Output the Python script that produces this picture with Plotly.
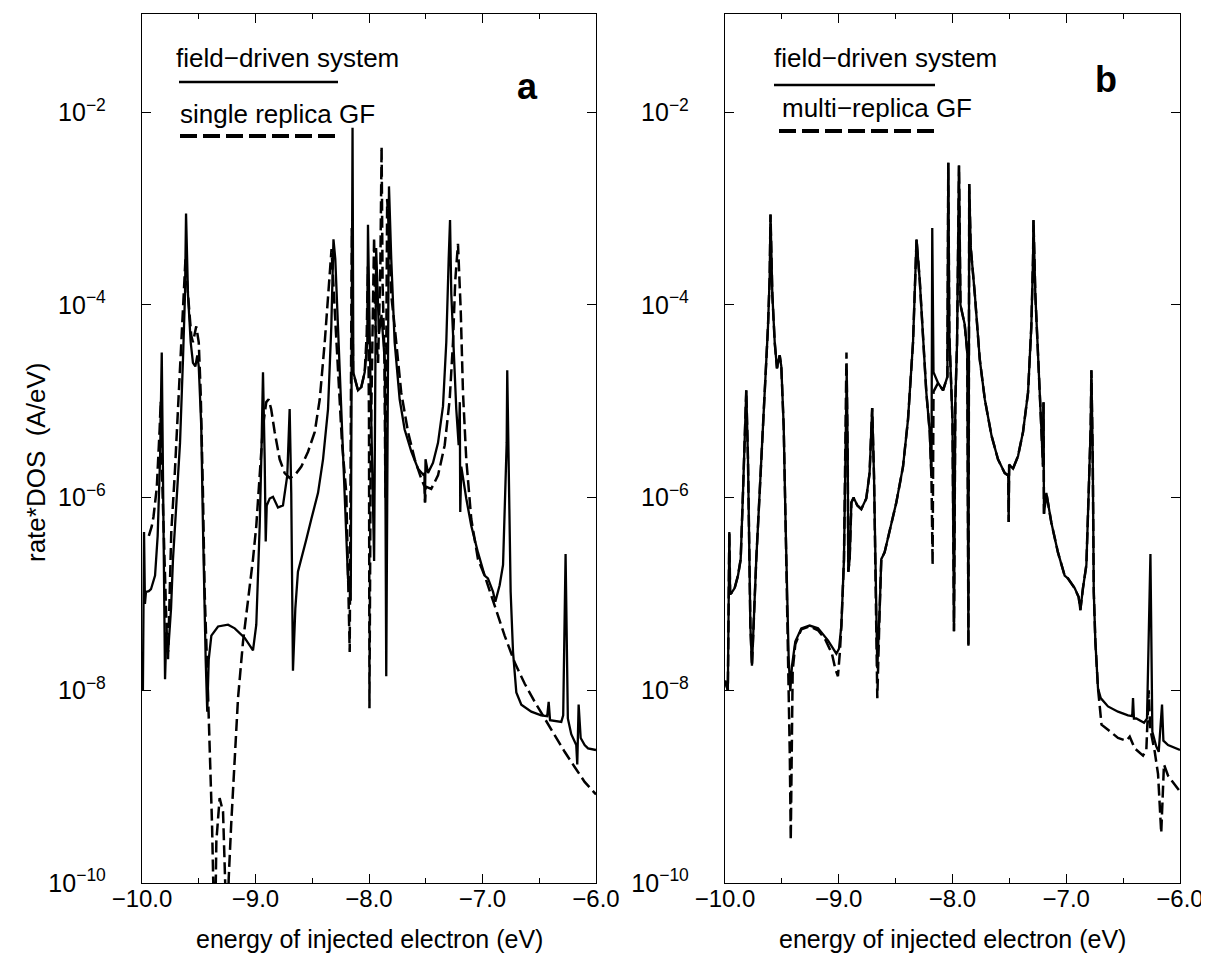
import plotly.graph_objects as go

# ---------------- data ----------------
# panel a, field-driven system (solid)
energy_a_solid = [-10.000, -9.992, -9.982, -9.974, -9.965, -9.940, -9.921, -9.885, -9.862, -9.853,
                  -9.841, -9.826, -9.818, -9.808, -9.797, -9.785, -9.770, -9.744, -9.727, -9.700,
                  -9.665, -9.639, -9.621, -9.612, -9.595, -9.571, -9.551, -9.530, -9.513, -9.500,
                  -9.478, -9.463, -9.454, -9.439, -9.425, -9.412, -9.389, -9.330, -9.242, -9.183,
                  -9.095, -9.022, -8.993, -8.972, -8.963, -8.949, -8.934, -8.919, -8.910, -8.901,
                  -8.875, -8.846, -8.802, -8.758, -8.720, -8.699, -8.685, -8.670, -8.649, -8.626,
                  -8.596, -8.552, -8.508, -8.449, -8.405, -8.361, -8.332, -8.317, -8.313, -8.297,
                  -8.273, -8.244, -8.214, -8.185, -8.167, -8.161, -8.145, -8.138, -8.097, -8.068,
                  -8.038, -8.015, -8.009, -7.990, -7.955, -7.937, -7.912, -7.890, -7.860, -7.848,
                  -7.824, -7.804, -7.774, -7.730, -7.686, -7.627, -7.568, -7.524, -7.512, -7.507,
                  -7.502, -7.480, -7.436, -7.392, -7.348, -7.319, -7.298, -7.286, -7.275, -7.251,
                  -7.231, -7.210, -7.200, -7.196, -7.187, -7.143, -7.099, -7.040, -6.981, -6.952,
                  -6.907, -6.887, -6.849, -6.819, -6.804, -6.787, -6.782, -6.769, -6.752, -6.731,
                  -6.702, -6.658, -6.570, -6.483, -6.430, -6.417, -6.405, -6.306, -6.289, -6.268,
                  -6.248, -6.218, -6.174, -6.165, -6.153, -6.135, -6.100, -6.070, -6.000]
rate_a_solid = [2.5e-8, 1.0e-8, 4.4e-7, 7.9e-8, 1.05e-7, 1.07e-7, 1.12e-7, 1.55e-7, 4.0e-7, 7.6e-7,
                2.5e-6, 3.2e-5, 2.5e-6, 1.6e-7, 1.3e-8, 4.0e-8, 2.5e-8, 7.1e-8, 2.3e-7, 7.6e-7,
                3.7e-6, 2.7e-5, 1.3e-4, 8.9e-4, 1.3e-4, 4.1e-5, 2.5e-5, 2.3e-5, 3.0e-5, 2.3e-5,
                5.5e-6, 5.1e-7, 1.05e-7, 2.1e-8, 6.0e-9, 2.1e-8, 3.7e-8, 4.6e-8, 4.8e-8, 4.4e-8,
                3.5e-8, 2.6e-8, 4.8e-8, 2.3e-7, 5.1e-7, 2.5e-6, 2.0e-5, 2.5e-6, 3.5e-7, 8.3e-7,
                9.8e-7, 1.02e-6, 7.9e-7, 8.3e-7, 1.7e-6, 8.3e-6, 1.12e-6, 1.6e-8, 7.1e-8, 1.7e-7,
                2.3e-7, 3.7e-7, 6.0e-7, 1.12e-6, 2.5e-6, 8.3e-6, 6.0e-5, 3.0e-4, 4.8e-4, 3.0e-4,
                6.0e-5, 8.3e-6, 1.12e-6, 1.45e-7, 1.05e-7, 8.5e-8, 6.9e-3, 2.0e-5, 1.3e-5, 1.4e-5,
                2.0e-5, 4.1e-5, 6.8e-4, 2.5e-5, 2.2e-7, 3.9e-4, 5.0e-5, 7.9e-5, 2.5e-5, 1.4e-8,
                1.7e-3, 3.0e-4, 4.1e-5, 1.05e-5, 5.1e-6, 3.0e-6, 2.0e-6, 1.74e-6, 1.78e-6, 8.9e-7,
                2.5e-6, 1.8e-6, 2.3e-6, 3.7e-6, 8.9e-6, 4.1e-5, 3.0e-4, 7.6e-4, 1.3e-4, 2.7e-5,
                8.3e-6, 3.5e-6, 9.8e-6, 7.1e-7, 2.1e-6, 9.8e-7, 5.1e-7, 2.7e-7, 1.55e-7, 1.45e-7,
                1.05e-7, 8.3e-8, 1.23e-7, 2.0e-7, 7.6e-7, 3.7e-6, 2.1e-5, 1.12e-6, 1.05e-7, 2.5e-8,
                9.5e-9, 7.1e-9, 6.0e-9, 5.5e-9, 5.4e-9, 7.6e-9, 4.9e-9, 4.7e-9, 5.5e-9, 2.6e-7,
                5.1e-9, 3.5e-9, 2.7e-9, 1.7e-9, 7.1e-9, 3.2e-9, 2.7e-9, 2.5e-9, 2.4e-9]

# panel a, single replica GF (dashed)
energy_a_dash = [-9.940, -9.915, -9.899, -9.870, -9.845, -9.835, -9.825, -9.800, -9.780, -9.771,
                 -9.760, -9.742, -9.712, -9.683, -9.654, -9.633, -9.617, -9.595, -9.566, -9.551,
                 -9.522, -9.500, -9.483, -9.463, -9.448, -9.419, -9.398, -9.383, -9.372, -9.360,
                 -9.350, -9.345, -9.316, -9.286, -9.267, -9.255, -9.245, -9.236, -9.214, -9.183,
                 -9.154, -9.110, -9.066, -9.022, -8.993, -8.963, -8.934, -8.905, -8.884, -8.862,
                 -8.831, -8.787, -8.743, -8.699, -8.655, -8.596, -8.537, -8.478, -8.434, -8.390,
                 -8.355, -8.330, -8.302, -8.273, -8.238, -8.200, -8.185, -8.170, -8.152, -8.140,
                 -8.097, -8.068, -8.038, -8.020, -8.010, -8.000, -7.996, -7.985, -7.965, -7.955,
                 -7.945, -7.920, -7.900, -7.889, -7.880, -7.865, -7.855, -7.848, -7.840, -7.825,
                 -7.804, -7.774, -7.716, -7.656, -7.597, -7.538, -7.510, -7.506, -7.500, -7.452,
                 -7.392, -7.333, -7.289, -7.260, -7.240, -7.216, -7.192, -7.172, -7.143, -7.099,
                 -7.040, -6.981, -6.893, -6.805, -6.717, -6.628, -6.540, -6.452, -6.364, -6.276,
                 -6.188, -6.100, -6.000]
rate_a_dash = [4.0e-7, 5.0e-7, 6.3e-7, 1.26e-6, 5.0e-6, 1.0e-5, 2.0e-6, 1.6e-7, 3.2e-8, 2.1e-8,
               6.3e-8, 4.4e-7, 1.7e-6, 8.3e-6, 4.1e-5, 1.3e-4, 3.0e-4, 1.3e-4, 4.8e-5, 4.1e-5,
               6.0e-5, 4.1e-5, 1.23e-5, 1.12e-6, 1.05e-7, 9.8e-9, 1.95e-9, 4.1e-10, 1.0e-10, 2.5e-11,
               1.0e-10, 2.7e-10, 7.6e-10, 5.5e-10, 1.0e-10, 2.5e-11, 4.0e-11, 1.12e-10, 4.1e-10, 1.95e-9,
               8.3e-9, 3.2e-8, 8.3e-8, 2.3e-7, 5.1e-7, 1.7e-6, 5.5e-6, 9.8e-6, 1.05e-5, 8.3e-6,
               4.8e-6, 2.5e-6, 1.8e-6, 1.6e-6, 1.7e-6, 2.1e-6, 3.0e-6, 4.8e-6, 1.05e-5, 4.1e-5,
               1.55e-4, 3.8e-4, 8.9e-5, 1.8e-5, 3.7e-6, 1.12e-6, 1.45e-7, 2.5e-8, 6.3e-4, 2.0e-5,
               1.3e-5, 1.4e-5, 2.0e-5, 5.0e-5, 2.5e-4, 6.3e-6, 6.5e-9, 3.2e-6, 1.0e-4, 5.0e-4,
               6.3e-5, 2.5e-5, 2.5e-4, 4.4e-3, 1.6e-4, 3.2e-5, 1.0e-6, 1.0e-4, 1.26e-3, 6.3e-4,
               1.26e-4, 6.0e-5, 1.23e-5, 4.8e-6, 2.5e-6, 1.55e-6, 1.3e-6, 8.9e-7, 1.3e-6, 1.23e-6,
               1.7e-6, 3.5e-6, 1.05e-5, 4.1e-5, 1.8e-4, 4.3e-4, 8.9e-5, 1.23e-5, 2.5e-6, 6.0e-7,
               2.3e-7, 1.55e-7, 7.6e-8, 3.7e-8, 1.95e-8, 1.17e-8, 7.6e-9, 5.1e-9, 3.5e-9, 2.3e-9,
               1.6e-9, 1.12e-9, 8.3e-10]

# panel b, field-driven system (solid)
energy_b_solid = [-10.000, -9.975, -9.962, -9.955, -9.945, -9.915, -9.886, -9.862, -9.842, -9.827,
                  -9.813, -9.798, -9.789, -9.777, -9.763, -9.745, -9.725, -9.710, -9.681, -9.652,
                  -9.622, -9.607, -9.600, -9.584, -9.563, -9.543, -9.519, -9.505, -9.484, -9.467,
                  -9.455, -9.440, -9.426, -9.411, -9.382, -9.329, -9.256, -9.182, -9.095, -9.021,
                  -8.998, -8.977, -8.954, -8.942, -8.930, -8.921, -8.916, -8.904, -8.889, -8.869,
                  -8.837, -8.802, -8.758, -8.729, -8.706, -8.690, -8.661, -8.640, -8.626, -8.597,
                  -8.553, -8.494, -8.435, -8.391, -8.347, -8.326, -8.316, -8.288, -8.259, -8.230,
                  -8.200, -8.185, -8.178, -8.167, -8.127, -8.083, -8.045, -8.037, -8.028, -8.000,
                  -7.987, -7.975, -7.960, -7.943, -7.930, -7.893, -7.870, -7.860, -7.853, -7.840,
                  -7.804, -7.760, -7.716, -7.657, -7.600, -7.541, -7.510, -7.506, -7.502, -7.468,
                  -7.424, -7.380, -7.336, -7.307, -7.292, -7.288, -7.272, -7.248, -7.224, -7.204,
                  -7.200, -7.196, -7.175, -7.131, -7.073, -7.014, -6.985, -6.926, -6.891, -6.876,
                  -6.853, -6.823, -6.803, -6.785, -6.779, -6.767, -6.758, -6.744, -6.721, -6.697,
                  -6.633, -6.545, -6.457, -6.420, -6.413, -6.405, -6.384, -6.316, -6.290, -6.260,
                  -6.243, -6.208, -6.187, -6.158, -6.146, -6.105, -6.000]
rate_b_solid = [1.26e-8, 1.0e-8, 4.4e-7, 1.0e-7, 1.02e-7, 1.15e-7, 1.55e-7, 2.3e-7, 1.12e-6, 3.7e-6,
                1.3e-5, 2.5e-6, 2.3e-7, 4.7e-8, 1.8e-8, 7.1e-8, 2.3e-7, 5.1e-7, 2.5e-6, 1.23e-5,
                6.0e-5, 2.0e-4, 8.7e-4, 1.3e-4, 4.1e-5, 2.2e-5, 3.0e-5, 2.3e-5, 5.5e-6, 5.1e-7,
                1.05e-7, 2.1e-8, 9.8e-9, 1.8e-8, 3.2e-8, 4.4e-8, 4.7e-8, 4.4e-8, 3.3e-8, 2.4e-8,
                2.7e-8, 4.7e-8, 2.3e-7, 2.5e-6, 2.1e-5, 2.5e-6, 1.7e-7, 2.3e-7, 8.9e-7, 1.0e-6,
                8.3e-7, 7.6e-7, 9.8e-7, 1.8e-6, 8.5e-6, 1.7e-6, 1.7e-8, 7.1e-8, 2.3e-7, 2.7e-7,
                4.4e-7, 8.9e-7, 2.1e-6, 6.5e-6, 4.1e-5, 2.0e-4, 4.8e-4, 1.8e-4, 4.1e-5, 1.23e-5,
                4.8e-6, 1.6e-6, 6.3e-4, 2.0e-5, 1.55e-5, 1.3e-5, 1.8e-5, 3.0e-3, 5.0e-5, 6.3e-6,
                4.1e-8, 1.0e-5, 4.0e-5, 2.8e-3, 1.0e-4, 6.3e-5, 3.2e-5, 2.9e-8, 1.8e-3, 4.0e-4,
                1.3e-4, 2.7e-5, 1.05e-5, 4.4e-6, 2.5e-6, 1.8e-6, 1.7e-6, 5.6e-7, 2.2e-6, 2.0e-6,
                2.7e-6, 4.8e-6, 1.23e-5, 6.0e-5, 3.0e-4, 7.6e-4, 1.3e-4, 2.7e-5, 6.5e-6, 2.1e-6,
                9.8e-6, 6.8e-7, 1.12e-6, 5.5e-7, 2.7e-7, 1.55e-7, 1.45e-7, 1.15e-7, 9.3e-8, 6.8e-8,
                1.15e-7, 2.0e-7, 1.12e-6, 5.5e-6, 2.1e-5, 2.5e-6, 1.05e-7, 3.2e-8, 1.05e-8, 8.3e-9,
                6.8e-9, 6.0e-9, 5.5e-9, 5.4e-9, 8.3e-9, 5.1e-9, 5.1e-9, 4.6e-9, 5.1e-9, 2.6e-7,
                3.7e-9, 2.6e-9, 2.3e-9, 7.1e-9, 3.0e-9, 2.7e-9, 2.4e-9]

# panel b, multi-replica GF (dashed)
energy_b_dash = [-10.000, -9.975, -9.962, -9.955, -9.945, -9.915, -9.886, -9.862, -9.842, -9.827,
                 -9.813, -9.798, -9.789, -9.777, -9.763, -9.745, -9.725, -9.710, -9.681, -9.652,
                 -9.622, -9.607, -9.600, -9.584, -9.563, -9.543, -9.519, -9.505, -9.484, -9.467,
                 -9.455, -9.440, -9.430, -9.422, -9.415, -9.405, -9.382, -9.329, -9.256, -9.182,
                 -9.120, -9.060, -9.030, -9.007, -8.990, -8.977, -8.954, -8.942, -8.932, -8.921,
                 -8.916, -8.904, -8.889, -8.869, -8.837, -8.802, -8.758, -8.729, -8.706, -8.690,
                 -8.661, -8.640, -8.626, -8.597, -8.553, -8.494, -8.435, -8.391, -8.347, -8.326,
                 -8.316, -8.288, -8.259, -8.230, -8.200, -8.185, -8.175, -8.167, -8.127, -8.083,
                 -8.045, -8.037, -8.028, -8.000, -7.987, -7.975, -7.960, -7.943, -7.930, -7.893,
                 -7.870, -7.860, -7.853, -7.840, -7.804, -7.760, -7.716, -7.657, -7.600, -7.541,
                 -7.510, -7.506, -7.502, -7.468, -7.424, -7.380, -7.336, -7.307, -7.292, -7.288,
                 -7.272, -7.248, -7.224, -7.204, -7.200, -7.196, -7.175, -7.131, -7.073, -7.014,
                 -6.985, -6.926, -6.891, -6.876, -6.853, -6.823, -6.803, -6.785, -6.779, -6.767,
                 -6.758, -6.744, -6.721, -6.705, -6.690, -6.633, -6.545, -6.472, -6.442, -6.398,
                 -6.325, -6.296, -6.275, -6.262, -6.222, -6.193, -6.165, -6.141, -6.105, -6.000]
rate_b_dash = [1.26e-8, 1.0e-8, 4.4e-7, 1.0e-7, 1.02e-7, 1.15e-7, 1.55e-7, 2.3e-7, 1.12e-6, 3.7e-6,
               1.3e-5, 2.5e-6, 2.3e-7, 4.7e-8, 1.8e-8, 7.1e-8, 2.3e-7, 5.1e-7, 2.5e-6, 1.23e-5,
               6.0e-5, 2.0e-4, 8.7e-4, 1.3e-4, 4.1e-5, 2.2e-5, 3.0e-5, 2.3e-5, 5.5e-6, 5.1e-7,
               1.05e-7, 1.26e-8, 2.0e-9, 2.8e-10, 2.5e-9, 1.6e-8, 3.0e-8, 4.3e-8, 4.6e-8, 4.2e-8,
               3.4e-8, 2.4e-8, 1.66e-8, 1.4e-8, 2.5e-8, 4.7e-8, 2.3e-7, 2.5e-6, 3.2e-5, 2.5e-6,
               1.7e-7, 2.3e-7, 8.9e-7, 1.0e-6, 8.3e-7, 7.6e-7, 9.8e-7, 1.8e-6, 8.5e-6, 1.7e-6,
               8.3e-9, 7.1e-8, 2.3e-7, 2.7e-7, 4.4e-7, 8.9e-7, 2.1e-6, 6.5e-6, 4.1e-5, 2.0e-4,
               4.8e-4, 1.8e-4, 4.1e-5, 1.23e-5, 4.8e-6, 1.6e-6, 2.0e-7, 1.26e-5, 1.55e-5, 1.3e-5,
               1.8e-5, 3.0e-3, 5.0e-5, 6.3e-6, 4.1e-8, 1.0e-5, 4.0e-5, 2.8e-3, 1.0e-4, 6.3e-5,
               3.2e-5, 2.9e-8, 1.8e-3, 4.0e-4, 1.3e-4, 2.7e-5, 1.05e-5, 4.4e-6, 2.5e-6, 1.8e-6,
               1.7e-6, 5.6e-7, 2.2e-6, 2.0e-6, 2.7e-6, 4.8e-6, 1.23e-5, 6.0e-5, 3.0e-4, 7.6e-4,
               1.3e-4, 2.7e-5, 6.5e-6, 2.1e-6, 9.8e-6, 6.8e-7, 1.12e-6, 5.5e-7, 2.7e-7, 1.55e-7,
               1.45e-7, 1.15e-7, 9.3e-8, 6.8e-8, 1.15e-7, 2.0e-7, 1.12e-6, 5.5e-6, 2.1e-5, 2.5e-6,
               1.05e-7, 3.2e-8, 1.05e-8, 6.3e-9, 4.4e-9, 3.9e-9, 3.2e-9, 3.0e-9, 3.3e-9, 2.5e-9,
               2.1e-9, 2.4e-9, 1.0e-8, 4.0e-9, 2.3e-9, 1.35e-9, 3.3e-10, 1.7e-9, 1.3e-9, 8.9e-10]

x_tick_values = [-10, -9, -8, -7, -6]
x_tick_labels = ["\u221210.0", "\u22129.0", "\u22128.0", "\u22127.0", "\u22126.0"]
y_tick_values = [1e-10, 1e-8, 1e-6, 1e-4, 1e-2]
y_tick_labels = ["10<sup>\u221210</sup>", "10<sup>\u22128</sup>", "10<sup>\u22126</sup>",
                 "10<sup>\u22124</sup>", "10<sup>\u22122</sup>"]

# ---------------- figure ----------------
W, H = 1209, 956
FONT = "Liberation Sans, Arial, Helvetica, sans-serif"

def px_x(p):
    return p / W

def px_y(p):
    return 1 - p / H

dom_a = [px_x(134), px_x(588)]
dom_b = [px_x(717), px_x(1172)]
dom_y = [px_y(875), px_y(6)]

fig = go.Figure()
solid_line = dict(color="black", width=2.3)
dash_line = dict(color="black", width=2.5, dash="12px,5px")

fig.add_trace(go.Scatter(x=energy_a_solid, y=rate_a_solid, mode="lines", line=solid_line,
                         xaxis="x", yaxis="y", name="field-driven system"))
fig.add_trace(go.Scatter(x=energy_a_dash, y=rate_a_dash, mode="lines", line=dash_line,
                         xaxis="x", yaxis="y", name="single replica GF"))
fig.add_trace(go.Scatter(x=energy_b_solid, y=rate_b_solid, mode="lines", line=solid_line,
                         xaxis="x2", yaxis="y2", name="field-driven system"))
fig.add_trace(go.Scatter(x=energy_b_dash, y=rate_b_dash, mode="lines", line=dash_line,
                         xaxis="x2", yaxis="y2", name="multi-replica GF"))

xcommon = dict(range=[-10, -6], tickmode="array", tickvals=x_tick_values, ticktext=x_tick_labels,
               ticks="inside", ticklen=9, tickwidth=1.3, tickcolor="black",
               showline=True, linecolor="black", linewidth=1.3, mirror="ticks",
               showgrid=False, zeroline=False, automargin=False,
               tickfont=dict(family=FONT, size=24, color="black"), ticklabelstandoff=-6,
               minor=dict(ticks="inside", ticklen=5, tickwidth=1.2, tickcolor="black",
                          tickmode="linear", tick0=-10, dtick=0.5, showgrid=False))
ycommon = dict(type="log", range=[-10, -0.98], domain=dom_y, tickmode="array",
               tickvals=y_tick_values, ticktext=y_tick_labels,
               ticks="inside", ticklen=9, tickwidth=1.3, tickcolor="black",
               showline=True, linecolor="black", linewidth=1.3, mirror="ticks",
               showgrid=False, zeroline=False, automargin=False,
               tickfont=dict(family=FONT, size=25, color="black"), ticklabelstandoff=30)

fig.update_layout(
    width=W, height=H, autosize=False,
    margin=dict(l=0, r=0, t=0, b=0),
    paper_bgcolor="white", plot_bgcolor="white",
    showlegend=False,
    xaxis=dict(domain=dom_a, anchor="y", **xcommon),
    yaxis=dict(anchor="x", **ycommon),
    xaxis2=dict(domain=dom_b, anchor="y2", **xcommon),
    yaxis2=dict(anchor="x2", **ycommon),
    font=dict(family=FONT, color="black"),
)

legend_font = dict(family=FONT, size=26, color="black")
title_font = dict(family=FONT, size=25, color="black")
annotations = [
    # panel a legend
    dict(text="field\u2212driven system", x=px_x(166), y=px_y(50), xanchor="left", yanchor="middle", font=legend_font),
    dict(text="single replica GF", x=px_x(170), y=px_y(106), xanchor="left", yanchor="middle", font=legend_font),
    # panel b legend
    dict(text="field\u2212driven system", x=px_x(764), y=px_y(50), xanchor="left", yanchor="middle", font=legend_font),
    dict(text="multi\u2212replica GF", x=px_x(772), y=px_y(100), xanchor="left", yanchor="middle", font=legend_font),
    # x titles
    dict(text="energy of injected electron (eV)", x=px_x(361), y=px_y(931), xanchor="center", yanchor="middle", font=title_font),
    dict(text="energy of injected electron (eV)", x=px_x(944), y=px_y(931), xanchor="center", yanchor="middle", font=title_font),
    # y title
    dict(text="rate*DOS  (A/eV)", x=px_x(28), y=px_y(455), textangle=-90, xanchor="center", yanchor="middle",
         font=dict(family=FONT, size=26, color="black")),
    # panel letters
    dict(text="<b>a</b>", x=px_x(519), y=px_y(78), xanchor="center", yanchor="middle",
         font=dict(family=FONT, size=36, color="black")),
    dict(text="<b>b</b>", x=px_x(1098), y=px_y(72), xanchor="center", yanchor="middle",
         font=dict(family=FONT, size=36, color="black")),
]
for a in annotations:
    a.update(xref="paper", yref="paper", showarrow=False)
fig.update_layout(annotations=annotations)

shapes = [
    dict(type="line", x0=px_x(171), x1=px_x(330), y0=px_y(74), y1=px_y(74),
         line=dict(color="black", width=2.5)),
    dict(type="line", x0=px_x(172), x1=px_x(328), y0=px_y(128), y1=px_y(128),
         line=dict(color="black", width=4, dash="17px,6px")),
    dict(type="line", x0=px_x(766), x1=px_x(927), y0=px_y(77), y1=px_y(77),
         line=dict(color="black", width=2.5)),
    dict(type="line", x0=px_x(771), x1=px_x(927), y0=px_y(123), y1=px_y(123),
         line=dict(color="black", width=4, dash="17px,6px")),
]
for s in shapes:
    s.update(xref="paper", yref="paper")
fig.update_layout(shapes=shapes)

fig.write_html("out.html")
